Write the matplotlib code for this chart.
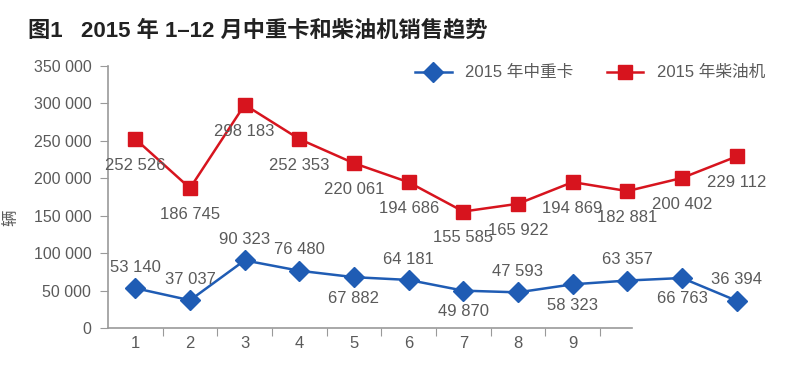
import matplotlib.pyplot as plt

plt.rcParams['font.family'] = ['Liberation Sans', 'Noto Sans CJK SC', 'DejaVu Sans']

months = list(range(1, 13))
month_labels = ['1', '2', '3', '4', '5', '6', '7', '8', '9']
truck = [53140, 37037, 90323, 76480, 67882, 64181, 49870, 47593, 58323, 63357, 66763, 36394]
diesel = [252526, 186745, 298183, 252353, 220061, 194686, 155585, 165922, 194869, 182881, 200402, 229112]
truck_labels = ['53 140', '37 037', '90 323', '76 480', '67 882', '64 181',
                '49 870', '47 593', '58 323', '63 357', '66 763', '36 394']
diesel_labels = ['252 526', '186 745', '298 183', '252 353', '220 061', '194 686',
                 '155 585', '165 922', '194 869', '182 881', '200 402', '229 112']
# label above (+1) or below (-1) the point
truck_side = [1, 1, 1, 1, -1, 1, -1, 1, -1, 1, -1, 1]

BLUE = '#1f5cb4'
RED = '#d7141e'
GRAY = '#5a5a5a'
AXC = '#9a9a9a'

fig = plt.figure(figsize=(8, 3.87), dpi=100)
ax = fig.add_axes([0.135, 0.1525, 0.82, 0.677])

ax.plot(months, truck, color=BLUE, lw=1.8, marker='D', ms=10, mec=BLUE, mfc=BLUE,
        label='2015 年中重卡', zorder=3)
ax.plot(months, diesel, color=RED, lw=1.8, marker='s', ms=10, mec=RED, mfc=RED,
        label='2015 年柴油机', zorder=3)

for x, y, s in zip(months, diesel, diesel_labels):
    ax.annotate(s, (x, y), xytext=(0, -19), textcoords='offset points',
                ha='center', va='center', fontsize=12, color=GRAY)
for x, y, s, side in zip(months, truck, truck_labels, truck_side):
    ax.annotate(s, (x, y), xytext=(0, 15 * side), textcoords='offset points',
                ha='center', va='center', fontsize=12, color=GRAY)

ax.set_xlim(0.5, 12.5)
ax.set_ylim(0, 350000)
ax.set_yticks(range(0, 350001, 50000))
ax.set_yticklabels(['0'] + ['%d 000' % (v // 1000) for v in range(50000, 350001, 50000)])

ax.set_xticks([m + 0.5 for m in range(1, 10)], minor=False)
ax.set_xticklabels([])
ax.set_xticks(months[:9], minor=True)
ax.set_xticklabels(month_labels, minor=True)
ax.tick_params(axis='x', which='major', length=6, color=AXC, direction='out')
ax.tick_params(axis='x', which='minor', length=0, labelsize=12, labelcolor=GRAY, pad=6)
ax.tick_params(axis='y', length=6, color=AXC, labelsize=11.5, labelcolor=GRAY, pad=6)

for side in ['top', 'right']:
    ax.spines[side].set_visible(False)
for side in ['left', 'bottom']:
    ax.spines[side].set_color(AXC)
    ax.spines[side].set_linewidth(1.2)
ax.spines['bottom'].set_bounds(0.5, 10.08)

ax.set_ylabel('辆', fontsize=12, color=GRAY)
ax.yaxis.set_label_coords(-0.136, 0.42)

ax.legend(loc='upper left', bbox_to_anchor=(0.445, 1.06), ncol=2, frameon=False,
          fontsize=12, labelcolor=GRAY, handlelength=2.2, columnspacing=2.0,
          handletextpad=0.8)

fig.text(0.035, 0.92, '图1   2015 年 1–12 月中重卡和柴油机销售趋势', fontsize=16,
         fontweight='bold', color='#222222', ha='left', va='center')

fig.savefig('out.png', dpi=100)
